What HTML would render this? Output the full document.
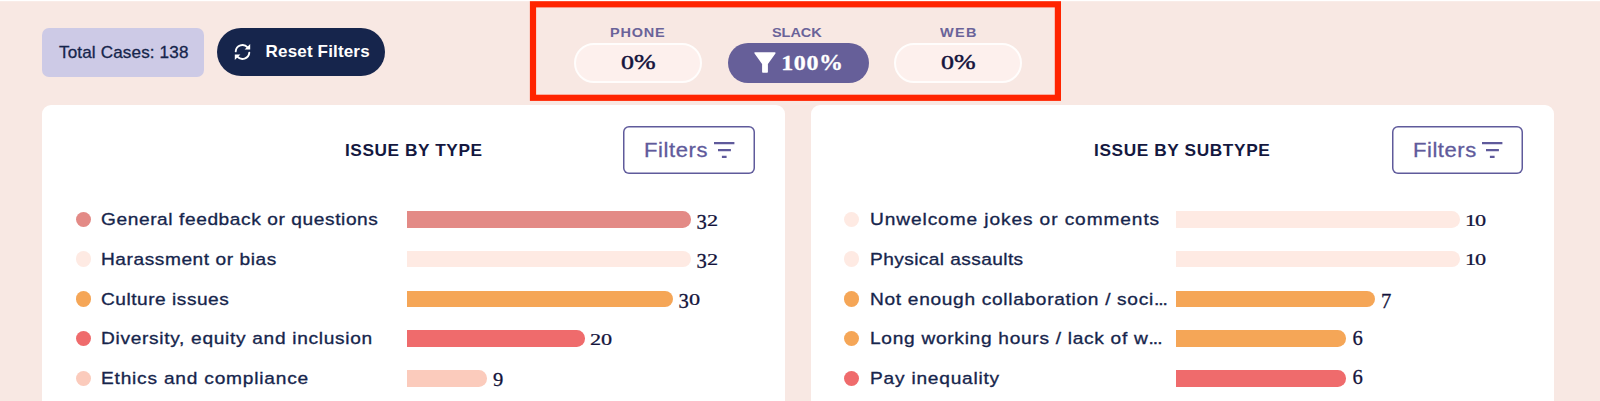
<!DOCTYPE html>
<html lang="en">
<head>
<meta charset="utf-8">
<title>Issue dashboard</title>
<style>
html,body{margin:0;padding:0}
body{width:1600px;height:401px;overflow:hidden;position:relative;background:#f8e8e3;font-family:"Liberation Sans",sans-serif;color:#16254c}
header,main,nav,section,div,ul,li,h2,i,svg{position:absolute;box-sizing:border-box;margin:0;padding:0}
ul{list-style:none}
header,main{left:0;top:0;width:1600px}
svg{overflow:visible}
.t{position:absolute;display:block;white-space:nowrap;line-height:0;margin:0;font-weight:400;transform-origin:0 0;-webkit-text-stroke:0.32px currentColor}
.total{width:162px;height:49px;border-radius:7px;background:#cdcae6}
.total .t{-webkit-text-stroke-width:0.3px}
.resetb{width:168.3px;height:48px;border-radius:24px;background:#16254c;color:#fff}
.resetb .t{font-weight:700;-webkit-text-stroke-width:0}
.channels{width:519px;height:87px}
.chan{width:141.4px;height:63px}
.lbl{color:#6a6399;font-weight:700;-webkit-text-stroke-width:0}
.pill{height:39.6px;border-radius:20px}
.pw{width:128.4px;background:#fdf0ed;border:2px solid #fffdfc}
.ps{width:141.4px;background:#665f99;color:#fff}
.val{font-family:"Liberation Serif",serif;color:#14143c;-webkit-text-stroke-width:0.5px}
.ps .val{color:#fff;font-weight:700;-webkit-text-stroke-width:0.3px}
.card{height:320px;border-radius:9px;background:#fff}
.c1{width:742.8px}
.c2{width:743.1px}
.title{color:#14183f;font-weight:700;-webkit-text-stroke-width:0}
.fbtn{width:131.6px;height:48px;border-radius:6px;box-shadow:inset 0 0 0 1.5px #5f5a9b;background:#fff;color:#5f5a9b}
.fbtn .t{-webkit-text-stroke-width:0.3px}
.rows{width:742px;height:202px}
.row{width:742px;height:39.75px}
.dot{width:15.5px;height:15.5px;border-radius:50%}
.bar{height:16.4px;border-radius:0 8.2px 8.2px 0}
.n{font-family:"Liberation Serif",serif;color:#14143c;-webkit-text-stroke-width:0.3px}
.t i{position:static;font-style:normal;display:inline-block;line-height:1;transform-origin:0 0.8375em}
.n .x{transform:scale(1.08,0.77)}
.n .d{transform:translateY(0.145em)}
.n .e{transform:translateY(0.1em) scaleY(0.93)}
.n .s{transform:translateY(0.16em) scaleY(1.04)}
.n .a{transform:scaleY(1.0)}
.pv .x{transform:scaleY(0.85);letter-spacing:0.6px}
.pv2 .x{transform:scaleY(0.91)}
.el{letter-spacing:-0.9px}
</style>
</head>
<body>
<header class="toolbar" style="left:0px;top:0px;">
 <div class="total" style="left:42px;top:28px;">
  <span class="t" style="left:17.1px;top:24.95px;font-size:16.6px;letter-spacing:0.135px;transform:scaleX(1.03);">Total Cases: 138</span>
 </div>
 <div class="resetb" style="left:217px;top:28px;" role="button">
  <svg class="ico" style="left:17px;top:15px;" width="17" height="18" viewBox="0 0 17 18" aria-hidden="true"><g fill="none" stroke="#fff" stroke-width="1.9" stroke-linecap="round"><path d="M1.7 8.3 A6.8 6.8 0 0 1 13.6 4.4"/><path d="M15.3 9.7 A6.8 6.8 0 0 1 3.4 13.6"/></g><path fill="#fff" d="M16.2 1 V6.6 H10.6 Z M0.8 17 V11.4 H6.4 Z"/></svg>
  <span class="t" style="left:48.6px;top:24.41px;font-size:17px;letter-spacing:0.163px;">Reset Filters</span>
 </div>
 <svg class="mark" style="left:0px;top:0px;" width="1600" height="104" aria-hidden="true"><rect x="0" y="0" width="1600" height="1.2" fill="#fff"/><rect x="533" y="4.3" width="524.9" height="93.5" fill="none" stroke="#ff2400" stroke-width="6.2"/></svg>
 <nav class="channels" style="left:536px;top:8px;">
  <div class="chan" style="left:38px;top:12px;">
   <span class="t lbl" style="left:36px;top:12.73px;font-size:13.2px;letter-spacing:0.684px;transform:scaleX(1.1);">PHONE</span>
   <div class="pill pw" style="left:0px;top:23px;">
    <span class="t val pv2" style="left:44.6px;top:6.74px;font-size:21.8px;transform:scaleX(1.19);"><i class="x">0</i>%</span>
   </div>
  </div>
  <div class="chan" style="left:191.6px;top:12px;">
   <span class="t lbl" style="left:44.4px;top:12.73px;font-size:13.2px;letter-spacing:-0.061px;transform:scaleX(1.1);">SLACK</span>
   <div class="pill ps" style="left:0px;top:23px;">
    <svg class="ico" style="left:26.4px;top:9px;" width="22" height="21" viewBox="0 0 22 21" aria-hidden="true"><path fill="#fff" stroke="#fff" stroke-width="1.6" stroke-linejoin="round" d="M1.2 1 H20.8 L13.1 11.8 V20 H8.9 V11.8 Z"/></svg>
    <span class="t val pv" style="left:53.6px;top:6.9px;font-size:24px;"><i class="x">100</i>%</span>
   </div>
  </div>
  <div class="chan" style="left:358px;top:12px;">
   <span class="t lbl" style="left:46.4px;top:12.73px;font-size:13.2px;letter-spacing:1.162px;transform:scaleX(1.1);">WEB</span>
   <div class="pill pw" style="left:0px;top:23px;">
    <span class="t val pv2" style="left:44.6px;top:6.74px;font-size:21.8px;transform:scaleX(1.19);"><i class="x">0</i>%</span>
   </div>
  </div>
 </nav>
</header>
<main style="left:0px;top:0px;">
 <section class="card c1" style="left:42px;top:105.1px;">
  <h2 class="t title" style="left:303px;top:45.75px;font-size:16.6px;letter-spacing:0.551px;transform:scaleX(1.04);">ISSUE BY TYPE</h2>
  <div class="fbtn" style="left:581px;top:20.7px;" role="button">
   <span class="t" style="left:21.1px;top:24.67px;font-size:20px;letter-spacing:0.547px;transform:scaleX(1.1);">Filters</span>
   <svg class="ico" style="left:90.5px;top:16.3px;" width="21" height="17" viewBox="0 0 21 17" aria-hidden="true"><path fill="none" stroke="#5f5a9b" stroke-width="2.2" d="M0 1.1H20.4M4 8.2H16.9M7.9 14.9H12.6"/></svg>
  </div>
  <ul class="rows" style="left:0px;top:94.4px;">
   <li class="row" style="left:0px;top:0px;">
    <i class="dot" style="left:33.5px;top:12.15px;background:#e38a86"></i>
    <span class="t lab" style="left:58.8px;top:19.87px;font-size:17.4px;letter-spacing:0.531px;transform:scaleX(1.1);">General feedback or questions</span>
    <i class="bar" style="left:365px;top:11.7px;width:284.2px;background:#e38a86"></i>
    <span class="t n" style="left:654.4px;top:9.25px;font-size:20.6px;"><i class="d">3</i><i class="x">2</i></span>
   </li>
   <li class="row" style="left:0px;top:39.75px;">
    <i class="dot" style="left:33.5px;top:12.15px;background:#feeae3"></i>
    <span class="t lab" style="left:58.8px;top:19.8px;font-size:17.4px;letter-spacing:0.500px;transform:scaleX(1.1);">Harassment or bias</span>
    <i class="bar" style="left:365px;top:11.7px;width:284.2px;background:#feeae3"></i>
    <span class="t n" style="left:654.4px;top:9.18px;font-size:20.6px;"><i class="d">3</i><i class="x">2</i></span>
   </li>
   <li class="row" style="left:0px;top:79.5px;">
    <i class="dot" style="left:33.5px;top:12.15px;background:#f5a657"></i>
    <span class="t lab" style="left:58.8px;top:19.73px;font-size:17.4px;letter-spacing:0.462px;transform:scaleX(1.1);">Culture issues</span>
    <i class="bar" style="left:365px;top:11.7px;width:266.44px;background:#f5a657"></i>
    <span class="t n" style="left:636.4px;top:9.11px;font-size:20.6px;"><i class="d">3</i><i class="x">0</i></span>
   </li>
   <li class="row" style="left:0px;top:119.25px;">
    <i class="dot" style="left:33.5px;top:12.15px;background:#ef6b6c"></i>
    <span class="t lab" style="left:58.8px;top:19.66px;font-size:17.4px;letter-spacing:0.625px;transform:scaleX(1.1);">Diversity, equity and inclusion</span>
    <i class="bar" style="left:365px;top:11.7px;width:177.62px;background:#ef6b6c"></i>
    <span class="t n" style="left:548.3px;top:9.04px;font-size:20.6px;"><i class="x">2</i><i class="x">0</i></span>
   </li>
   <li class="row" style="left:0px;top:159px;">
    <i class="dot" style="left:33.5px;top:12.15px;background:#fbcbbc"></i>
    <span class="t lab" style="left:58.8px;top:19.59px;font-size:17.4px;letter-spacing:0.717px;transform:scaleX(1.1);">Ethics and compliance</span>
    <i class="bar" style="left:365px;top:11.7px;width:79.93px;background:#fbcbbc"></i>
    <span class="t n" style="left:451px;top:8.97px;font-size:20.6px;"><i class="e">9</i></span>
   </li>
  </ul>
 </section>
 <section class="card c2" style="left:811.1px;top:105.1px;">
  <h2 class="t title" style="left:283.3px;top:45.75px;font-size:16.6px;letter-spacing:0.592px;transform:scaleX(1.04);">ISSUE BY SUBTYPE</h2>
  <div class="fbtn" style="left:580.5px;top:20.7px;" role="button">
   <span class="t" style="left:21.4px;top:24.67px;font-size:20px;letter-spacing:0.501px;transform:scaleX(1.1);">Filters</span>
   <svg class="ico" style="left:90.7px;top:16.3px;" width="21" height="17" viewBox="0 0 21 17" aria-hidden="true"><path fill="none" stroke="#5f5a9b" stroke-width="2.2" d="M0 1.1H20.4M4 8.2H16.9M7.9 14.9H12.6"/></svg>
  </div>
  <ul class="rows" style="left:0px;top:94.4px;">
   <li class="row" style="left:0px;top:0px;">
    <i class="dot" style="left:32.9px;top:12.15px;background:#feeae3"></i>
    <span class="t lab" style="left:58.6px;top:19.87px;font-size:17.4px;letter-spacing:0.818px;transform:scaleX(1.1);">Unwelcome jokes or comments</span>
    <i class="bar" style="left:364.7px;top:11.7px;width:283.9px;background:#feeae3"></i>
    <span class="t n" style="left:653.6px;top:9.25px;font-size:20.6px;"><i class="x">1</i><i class="x">0</i></span>
   </li>
   <li class="row" style="left:0px;top:39.75px;">
    <i class="dot" style="left:32.9px;top:12.15px;background:#feeae3"></i>
    <span class="t lab" style="left:58.6px;top:19.8px;font-size:17.4px;letter-spacing:0.367px;transform:scaleX(1.1);">Physical assaults</span>
    <i class="bar" style="left:364.7px;top:11.7px;width:283.9px;background:#feeae3"></i>
    <span class="t n" style="left:653.6px;top:9.18px;font-size:20.6px;"><i class="x">1</i><i class="x">0</i></span>
   </li>
   <li class="row" style="left:0px;top:79.5px;">
    <i class="dot" style="left:32.9px;top:12.15px;background:#f5a657"></i>
    <span class="t lab" style="left:58.6px;top:19.73px;font-size:17.4px;letter-spacing:0.622px;transform:scaleX(1.1);">Not enough collaboration / soci<span class="el">...</span></span>
    <i class="bar" style="left:364.7px;top:11.7px;width:198.73px;background:#f5a657"></i>
    <span class="t n" style="left:569.83px;top:9.11px;font-size:20.6px;"><i class="s">7</i></span>
   </li>
   <li class="row" style="left:0px;top:119.25px;">
    <i class="dot" style="left:32.9px;top:12.15px;background:#f5a657"></i>
    <span class="t lab" style="left:58.6px;top:19.66px;font-size:17.4px;letter-spacing:0.643px;transform:scaleX(1.1);">Long working hours / lack of w<span class="el">...</span></span>
    <i class="bar" style="left:364.7px;top:11.7px;width:170.34px;background:#f5a657"></i>
    <span class="t n" style="left:541.44px;top:9.04px;font-size:20.6px;"><i class="a">6</i></span>
   </li>
   <li class="row" style="left:0px;top:159px;">
    <i class="dot" style="left:32.9px;top:12.15px;background:#ef6b6c"></i>
    <span class="t lab" style="left:58.6px;top:19.59px;font-size:17.4px;letter-spacing:0.705px;transform:scaleX(1.1);">Pay inequality</span>
    <i class="bar" style="left:364.7px;top:11.7px;width:170.34px;background:#ef6b6c"></i>
    <span class="t n" style="left:541.44px;top:8.97px;font-size:20.6px;"><i class="a">6</i></span>
   </li>
  </ul>
 </section>
</main>
</body>
</html>
